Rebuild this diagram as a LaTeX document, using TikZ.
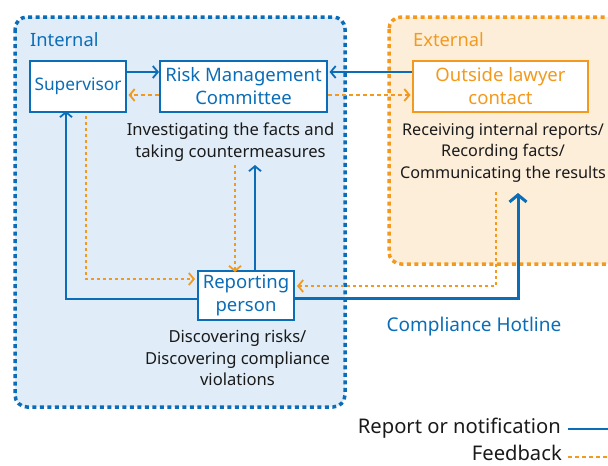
\documentclass[tikz,border=0pt]{standalone}
\usepackage{fontspec}
\setmainfont{Noto Sans}
\usetikzlibrary{arrows.meta}
\definecolor{cblue}{HTML}{0B6DB7}
\definecolor{corange}{HTML}{F39A1E}
\definecolor{fblue}{HTML}{E0EDF9}
\definecolor{forange}{HTML}{FDEEDA}
\definecolor{ctext}{HTML}{1A1A1A}
\tikzset{
  txt/.style={font=\fontsize{16.6}{21.3}\selectfont, text=ctext, align=center, inner sep=0pt},
  bbox/.style={draw=cblue, line width=2pt, fill=white, text=cblue, align=center, inner sep=0pt,
    font=\fontsize{18.5}{23}\selectfont},
  obox/.style={bbox, draw=corange, text=corange},
  grpblue/.style={draw=cblue, fill=fblue, line width=3.5pt, dash pattern=on 4pt off 3.5pt, rounded corners=12pt},
  grporange/.style={draw=corange, fill=forange, line width=3.5pt, dash pattern=on 4pt off 3.5pt, rounded corners=12pt},
  rep/.style={draw=cblue, line width=1.8pt, -{Straight Barb[length=5pt,width=12pt,line width=1.8pt]}},
  fb/.style={draw=corange, line width=1.8pt, dash pattern=on 4pt off 3pt, -{Straight Barb[length=5pt,width=12pt,line width=1.8pt]}},
  fbv/.style={draw=corange, line width=1.8pt, dash pattern=on 3pt off 3pt, -{Straight Barb[length=5pt,width=12pt,line width=1.8pt]}},
  lbl/.style={font=\fontsize{18.3}{22}\selectfont, inner sep=0pt},
  leg/.style={anchor=east, text=ctext, font=\fontsize{20.2}{22}\selectfont, inner sep=0pt},
}
\begin{document}
\begin{tikzpicture}[x=1pt,y=-1pt]
\useasboundingbox (0,0) rectangle (608,466);
\clip (0,0) rectangle (608,466);
% groups
\draw[grpblue] (15,17) rectangle (345,407);
\draw[grporange] (389,17) rectangle (680,264);
\node[lbl, anchor=west, text=cblue] (lint) at (30,40) {Internal};
\node[lbl, anchor=west, text=corange] (lext) at (413,40) {External};
% boxes
\node[bbox, minimum width=96pt, minimum height=51pt, font=\fontsize{17.3}{23}\selectfont] (sup) at (78,86.5) {Supervisor};
\node[bbox, minimum width=167pt, minimum height=51pt] (rmc) at (243.5,86.5) {Risk Management\\Committee};
\node[obox, minimum width=175pt, minimum height=51pt] (law) at (500.5,86.5) {Outside lawyer\\contact};
\node[bbox, minimum width=96pt, minimum height=49pt] (rp) at (246,295.5) {Reporting\\person};
% descriptions
\node[txt, anchor=north] (drmc) at (230.5,123) {Investigating the facts and\\taking countermeasures};
\node[txt, anchor=north, font=\fontsize{16.2}{21.3}\selectfont] (dlaw) at (503,123) {Receiving internal reports/\\Recording facts/\\Communicating the results};
\node[txt, anchor=north] (drp) at (237.5,330) {Discovering risks/\\Discovering compliance\\violations};
\node[lbl, text=cblue, font=\fontsize{19}{22}\selectfont] (hot) at (474,327) {Compliance Hotline};
% top arrows
\draw[rep] (sup.east |- 0,72) -- (rmc.west |- 0,72);
\draw[fb] (rmc.west |- 0,95) -- ([xshift=1.5pt]sup.east |- 0,95);
\draw[rep] (law.west |- 0,72) -- ([xshift=1.5pt]rmc.east |- 0,72);
\draw[fb] (rmc.east |- 0,95) -- ([xshift=-1.5pt]law.west |- 0,95);
% supervisor loop
\draw[rep] (rp.west |- 0,299) -| ([yshift=2pt]sup.south -| 66,0);
\coordinate (fs) at (86,116);
\draw[fbv] (fs) |- ([xshift=-2pt]rp.west |- 0,279);
% rmc verticals
\coordinate (fr) at (235,165);
\coordinate (ur) at (255,165);
\draw[fbv] (fr) -- ([yshift=-2pt]rp.north -| 235,0);
\draw[rep] (rp.north -| 255,0) -- (ur);
% hotline
\coordinate (hl) at (518,193);
\draw[draw=cblue, line width=3pt, -{Straight Barb[length=7pt,width=17pt,line width=3pt]}] (rp.east |- 0,298) -| (hl);
\coordinate (fl) at (496,192);
\draw[fbv] (fl) |- ([xshift=2pt]rp.east |- 0,286);
% legend
\node[leg] (lr) at (561,428) {Report or notification};
\node[leg] (lf) at (562,452.5) {Feedback};
\coordinate (lre) at (620,429);
\coordinate (lfe) at (620,457);
\draw[rep] ([xshift=7pt]lr.east |- lre) -- (lre);
\draw[fb] ([xshift=6pt]lf.east |- lfe) -- (lfe);
\end{tikzpicture}
\end{document}
